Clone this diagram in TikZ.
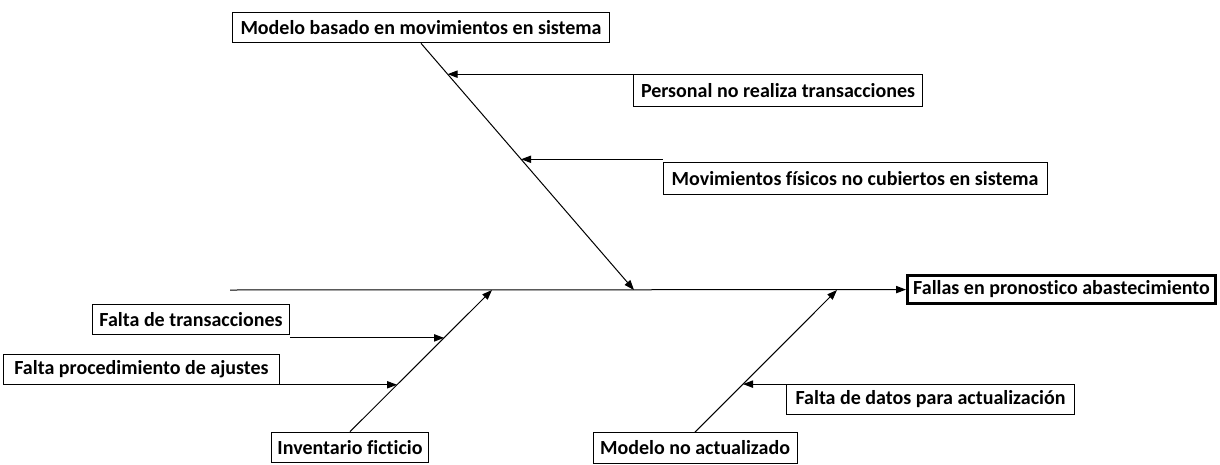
\documentclass[tikz,border=0pt]{standalone}
\usepackage{fontspec}
\setmainfont{Carlito}[Ligatures=CommonOff]
\usetikzlibrary{arrows.meta}

\tikzset{
	causa/.style={draw, line width=0.75pt, inner sep=0pt, minimum height=23pt, font=\bfseries\fontsize{15}{17}\selectfont},
	flecha/.style={-{Triangle[length=7.5pt,width=5.5pt]}, line width=0.75pt},
}

\begin{document}
\begin{tikzpicture}[x=0.75pt, y=-0.75pt]
	\useasboundingbox (0,0) rectangle (1220,464);
	
	\node[causa, minimum width=283pt] (modsis) at (421,27.5) {Modelo basado en movimientos en sistema};
	\node[causa, minimum width=217pt, minimum height=24pt] (pers) at (778,90.5) {Personal no realiza transacciones};
	\node[causa, minimum width=288pt, minimum height=24pt] (movi) at (855,178.5) {Movimientos físicos no cubiertos en sistema};
	\node[causa, line width=2.25pt, minimum width=231pt, minimum height=21pt] (efecto) at (1061.5,289.5) {Fallas en pronostico abastecimiento};
	\node[causa, minimum width=148pt] (ftr) at (191,319.5) {Falta de transacciones};
	\node[causa, minimum width=207pt] (fpr) at (141.5,369.5) {Falta procedimiento de ajustes};
	\node[causa, minimum width=118pt] (inv) at (350,447.5) {Inventario ficticio};
	\node[causa, minimum width=153pt] (modno) at (695,448) {Modelo no actualizado};
	\node[causa, minimum width=216pt] (fdat) at (930.5,399.5) {Falta de datos para actualización};
	
	\coordinate (cola) at (230,290);
	\coordinate (t1) at (634,290);
	\coordinate (t2) at (492,290);
	\coordinate (t3) at (837,290);
	
	% espina principal
	\draw [flecha] (cola) -- (efecto);
	
	% espinas
	\draw [flecha] (modsis.south) -- (t1) coordinate[pos=0.125] (p1) coordinate[pos=0.47] (p2);
	\draw [flecha] (inv.north) -- (t2) coordinate[pos=0.662] (q1) coordinate[pos=0.331] (q2);
	\draw [flecha] (modno.north) -- (t3) coordinate[pos=0.338] (r1);
	
	% subcausas
	\draw [flecha] (p1 -| pers.north west) -- (p1);
	\draw [flecha] (p2 -| movi.west) -- (p2);
	\draw [flecha] (q1 -| ftr.east) -- (q1);
	\draw [flecha] (q2 -| fpr.east) -- (q2);
	\draw [flecha] (r1 -| fdat.west) -- (r1);
	
\end{tikzpicture}
\end{document}
